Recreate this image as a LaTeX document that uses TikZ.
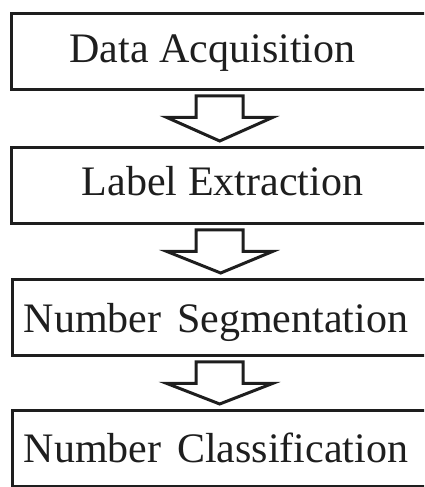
\documentclass[tikz,border=0pt]{standalone}
\usepackage{fontspec}
\setmainfont{Liberation Serif}
\usetikzlibrary{calc}

\definecolor{ink}{HTML}{1E1E1E}

\tikzset{
  stepbox/.style={draw=ink, line width=3.4pt, rectangle, minimum width=420pt,
    minimum height=76pt, anchor=north west, inner sep=0pt},
  steplabel/.style={anchor=base, inner sep=0pt, text=ink,
    font=\fontsize{42}{48}\selectfont},
  blockarrow/.style={draw=ink, line width=3pt, fill=white, line join=miter},
}

% hollow block arrow hanging from the bottom of one box down to the next
\newcommand\flowarrow[2]{%
  \draw[blockarrow] let \p1=(#1), \p2=(#2) in
    (\x1-23.5pt,\y1-4.5pt) -- (\x1-23.5pt,\y1-26pt) -- (\x1-53pt,\y1-26pt)
    -- (\x2,\y2+5pt) -- (\x1+53pt,\y1-26pt) -- (\x1+23.5pt,\y1-26pt)
    -- (\x1+23.5pt,\y1-4.5pt) -- cycle;}

\begin{document}
\begin{tikzpicture}[x=1pt, y=-1pt]
  \useasboundingbox (0,0) rectangle (424,487);
  \clip (0,0) rectangle (424,487);

  % process boxes (they run past the right edge)
  \node[stepbox] (b1) at (10,12)  {};
  \node[stepbox] (b2) at (10,146) {};
  \node[stepbox] (b3) at (11,278) {};
  \node[stepbox] (b4) at (11,409) {};

  \node[steplabel] (t1) at (212.5,63) {Data Acquisition};
  \node[steplabel] (t2) at (222.5,195) {Label Extraction};
  \node[steplabel] (t3) at (216,332) {Number\hspace{0.12em} Segmentation};
  \node[steplabel] (t4) at (216,462) {Number\hspace{0.12em} Classification};

  % anchor points of the arrows on the box edges
  \coordinate (a1s) at ([xshift=-2pt]b1.south);
  \coordinate (a1e) at ([xshift=-2pt]b2.north);
  \coordinate (a2s) at ([xshift=-2pt]b2.south);
  \coordinate (a2e) at ([xshift=-2pt]b3.north);
  \coordinate (a3s) at ([xshift=-3pt]b3.south);
  \coordinate (a3e) at ([xshift=-3pt]b4.north);

  \flowarrow{a1s}{a1e}
  \flowarrow{a2s}{a2e}
  \flowarrow{a3s}{a3e}
\end{tikzpicture}
\end{document}
